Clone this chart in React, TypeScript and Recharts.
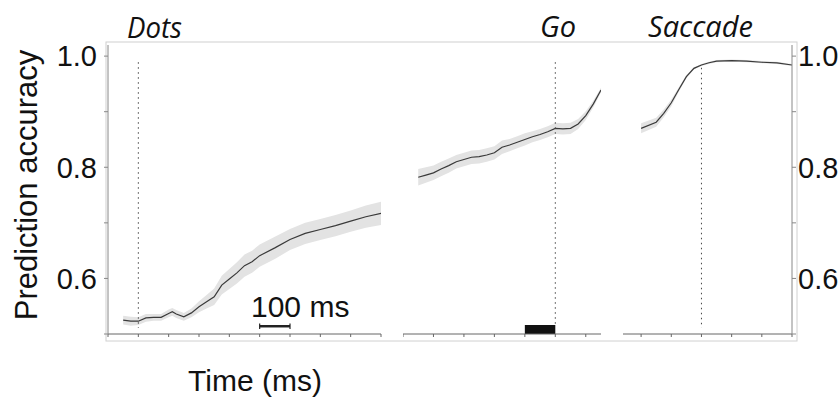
import {
  Area,
  ComposedChart,
  Line,
  ReferenceArea,
  ReferenceLine,
  XAxis,
  YAxis,
} from "recharts";

// time (ms) relative to each event, accuracy and shaded error half-width
const dotsTime = [-50, -25, 0, 25, 50, 75, 100, 112, 125, 150, 175, 200, 225, 250, 275, 300, 325, 350, 375, 400, 450, 500, 550, 600, 650, 700, 750, 800];
const dotsAcc = [0.525, 0.523, 0.523, 0.529, 0.53, 0.53, 0.537, 0.54, 0.536, 0.531, 0.538, 0.549, 0.558, 0.567, 0.588, 0.599, 0.61, 0.623, 0.63, 0.641, 0.655, 0.67, 0.681, 0.688, 0.695, 0.703, 0.711, 0.717];
const dotsErr = [0.008, 0.008, 0.007, 0.007, 0.006, 0.006, 0.007, 0.007, 0.007, 0.007, 0.008, 0.01, 0.012, 0.015, 0.017, 0.018, 0.019, 0.02, 0.02, 0.02, 0.02, 0.019, 0.019, 0.019, 0.019, 0.019, 0.02, 0.021];

const goTime = [-450, -425, -400, -375, -350, -325, -300, -275, -250, -225, -200, -175, -150, -125, -100, -75, -50, -25, 0, 25, 50, 75, 100, 125, 150];
const goAcc = [0.782, 0.786, 0.79, 0.797, 0.803, 0.81, 0.814, 0.818, 0.819, 0.822, 0.826, 0.836, 0.84, 0.845, 0.85, 0.855, 0.859, 0.864, 0.87, 0.869, 0.87, 0.878, 0.893, 0.914, 0.939];
const goErr = [0.015, 0.014, 0.013, 0.013, 0.013, 0.012, 0.012, 0.012, 0.012, 0.012, 0.012, 0.012, 0.011, 0.011, 0.011, 0.01, 0.01, 0.01, 0.01, 0.01, 0.01, 0.009, 0.008, 0.006, 0.004];

const saccadeTime = [-200, -150, -125, -100, -75, -50, -25, 0, 25, 50, 100, 150, 200, 250, 300];
const saccadeAcc = [0.87, 0.881, 0.897, 0.916, 0.94, 0.963, 0.978, 0.984, 0.988, 0.991, 0.992, 0.991, 0.989, 0.988, 0.984];
const saccadeErr = [0.009, 0.008, 0.007, 0.006, 0.004, 0.003, 0.002, 0.002, 0.002, 0.002, 0.002, 0.002, 0.002, 0.002, 0.002];

const dotsTicks = [-100, 0, 100, 200, 300, 400, 500, 600, 700, 800];
const goTicks = [-500, -400, -300, -200, -100, 0, 100];
const saccadeTicks = [-200, -100, 0, 100, 200, 300];
const yTicks = [0.5, 0.6, 0.7, 0.8, 0.9, 1.0];
const yLabels = [0.6, 0.8, 1.0];

const Y_DOMAIN: [number, number] = [0.5, 1.02];

const rows = (time: number[], acc: number[], err: number[]) =>
  time.map((t, i) => ({ t, acc: acc[i], band: [acc[i] - err[i], acc[i] + err[i]] }));

const dotsData = rows(dotsTime, dotsAcc, dotsErr);
const goData = rows(goTime, goAcc, goErr);
const saccadeData = rows(saccadeTime, saccadeAcc, saccadeErr);

const sans = "Liberation Sans, Arial, sans-serif";
const italic = "'Open Sans', sans-serif";
const tickFont = { fill: "#111", fontSize: 29, fontFamily: sans };

function xAxis(domain: [number, number], ticks: number[]) {
  return (
    <XAxis
      dataKey="t"
      type="number"
      domain={domain}
      ticks={ticks}
      interval={0}
      tickFormatter={() => ""}
      tickSize={3}
      height={66}
      stroke="#666"
      allowDataOverflow
    />
  );
}

function band() {
  return <Area dataKey="band" stroke="none" fill="#e3e3e3" fillOpacity={1} isAnimationActive={false} />;
}

function line() {
  return <Line dataKey="acc" type="linear" stroke="#3a3a3a" strokeWidth={1.2} dot={false} isAnimationActive={false} />;
}

const dotted = { stroke: "#444", strokeDasharray: "1.5 3.5", strokeWidth: 1 };

export default function App() {
  return (
    <div style={{ position: "absolute", left: 0, top: 0, width: 838, height: 400, background: "#fff" }}>
      <svg width={838} height={400} style={{ position: "absolute", left: 0, top: 0 }}>
        <rect x={106} y={42} width={691} height={299} fill="none" stroke="#d0d0d0" strokeWidth={1} />
        <text x={127} y={38} fontFamily={italic} fontStyle="italic" fontSize={29} textLength={55} lengthAdjust="spacingAndGlyphs" fill="#111">Dots</text>
        <text x={540} y={37} fontFamily={italic} fontStyle="italic" fontSize={29} textLength={36} lengthAdjust="spacingAndGlyphs" fill="#111">Go</text>
        <text x={648} y={37} fontFamily={italic} fontStyle="italic" fontSize={29} textLength={105} lengthAdjust="spacingAndGlyphs" fill="#111">Saccade</text>
        <text transform="translate(37,185) rotate(-90)" textAnchor="middle" fontFamily={sans} fontSize={31} fill="#111">Prediction accuracy</text>
        <text x={255} y={391} textAnchor="middle" fontFamily={sans} fontSize={30} fill="#111">Time (ms)</text>
        <text x={251} y={317} fontFamily={sans} fontSize={30} fill="#111">100 ms</text>
      </svg>

      <div style={{ position: "absolute", left: 0, top: 0 }}>
        <ComposedChart width={390} height={400} data={dotsData} margin={{ top: 45, right: 9, bottom: 0, left: 0 }}>
          {xAxis([-100, 800], dotsTicks)}
          <YAxis
            type="number"
            domain={Y_DOMAIN}
            ticks={yTicks}
            interval={0}
            width={108}
            tickSize={4}
            tickMargin={7}
            stroke="#888"
            tick={tickFont}
            tickFormatter={(v: number) => (yLabels.includes(v) ? v.toFixed(1) : "")}
            allowDataOverflow
          />
          {band()}
          {line()}
          <ReferenceLine segment={[{ x: 0, y: 0.989 }, { x: 0, y: 0.511 }]} {...dotted} />
          <ReferenceLine segment={[{ x: 400, y: 0.514 }, { x: 500, y: 0.514 }]} stroke="#222" strokeWidth={2.5} />
          <ReferenceLine segment={[{ x: 400, y: 0.509 }, { x: 400, y: 0.519 }]} stroke="#222" strokeWidth={1.2} />
          <ReferenceLine segment={[{ x: 500, y: 0.509 }, { x: 500, y: 0.519 }]} stroke="#222" strokeWidth={1.2} />
        </ComposedChart>
      </div>

      <div style={{ position: "absolute", left: 403, top: 0 }}>
        <ComposedChart width={198} height={400} data={goData} margin={{ top: 45, right: 0, bottom: 0, left: 0 }}>
          {xAxis([-500, 150], goTicks)}
          <YAxis type="number" domain={Y_DOMAIN} hide allowDataOverflow />
          {band()}
          {line()}
          <ReferenceArea x1={-100} x2={0} y1={0.5} y2={0.516} fill="#111" fillOpacity={1} stroke="none" ifOverflow="visible" />
          <ReferenceLine segment={[{ x: 0, y: 0.989 }, { x: 0, y: 0.516 }]} {...dotted} />
        </ComposedChart>
      </div>

      <div style={{ position: "absolute", left: 623, top: 0 }}>
        <ComposedChart width={215} height={400} data={saccadeData} margin={{ top: 45, right: 0, bottom: 0, left: 0 }}>
          {xAxis([-260, 300], saccadeTicks)}
          <YAxis
            type="number"
            orientation="right"
            domain={Y_DOMAIN}
            ticks={yTicks}
            interval={0}
            width={46}
            tickSize={4}
            tickMargin={2}
            stroke="#888"
            tick={tickFont}
            tickFormatter={(v: number) => (yLabels.includes(v) ? v.toFixed(1) : "")}
            allowDataOverflow
          />
          {band()}
          {line()}
          <ReferenceLine segment={[{ x: 0, y: 0.979 }, { x: 0, y: 0.511 }]} {...dotted} />
        </ComposedChart>
      </div>
    </div>
  );
}
